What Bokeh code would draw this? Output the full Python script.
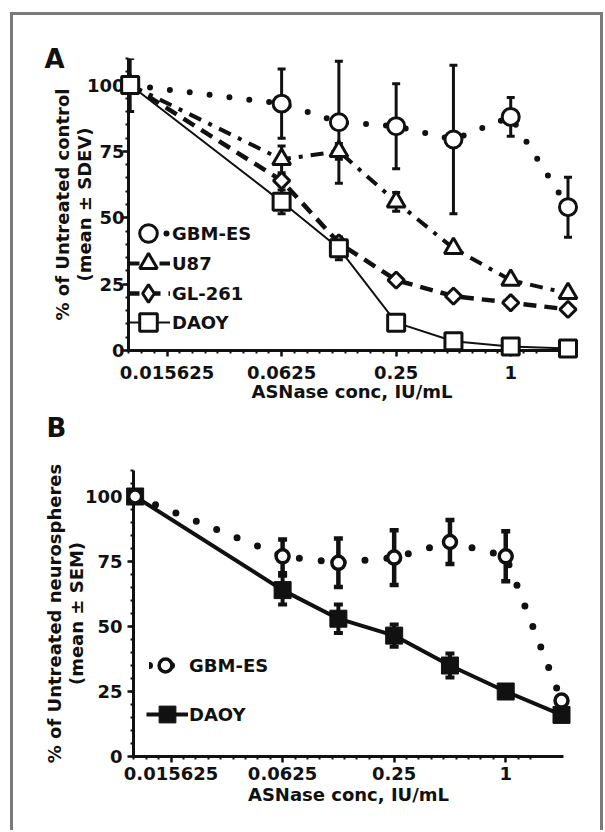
import numpy as np
from bokeh.plotting import figure
from bokeh.models import (ColumnDataSource, Range1d, FixedTicker, SingleIntervalTicker,
                          Whisker, TeeHead, Legend, LegendItem)
from bokeh.core.properties import value
from bokeh.layouts import column
from bokeh.embed import file_html
from bokeh.resources import INLINE

# ---------------- data ----------------
conc = [0.01, 0.0625, 0.125, 0.25, 0.5, 1, 2]

# Panel A  (% of untreated control, mean +/- SDEV)
a_gbm = [100, 93, 86, 84.5, 79.5, 88, 54]
a_gbm_err = [10, 13, 23, 16, 28, 7.3, 11.3]
a_u87 = [100, 72, 75, 56, 38.5, 26.5, 21.5]
a_u87_err = [3, 5, 3, 3.5, 1.5, 1.5, 1]
a_gl261 = [100, 64, 40.5, 26.5, 20.5, 18, 15.5]
a_gl261_err = [2, 2, 2, 1.5, 1.5, 1, 1]
a_daoy = [100, 56, 38.5, 10.5, 3.5, 1.5, 0.8]
a_daoy_err = [1, 4.5, 4.3, 1, 0.5, 0.5, 0.3]

# Panel B  (% of untreated neurospheres, mean +/- SEM)
b_gbm = [100, 77, 74.5, 76.5, 82.5, 77, 21.5]
b_gbm_err = [0.5, 6.5, 9.3, 10.5, 8.5, 9.6, 1.5]
b_daoy = [100, 64, 53, 46.5, 35, 25, 16]
b_daoy_err = [0.5, 5.5, 5.5, 4.3, 4.6, 1, 1]

x_tick_values = [0.015625, 0.0625, 0.25, 1]
x_tick_labels = ["0.015625", "0.0625", "0.25", "1"]
y_tick_interval = 25

FONT = "DejaVu Sans"
INK = "#111111"
Y_MAX = 110


def minor_ticks(x0, x1):
    step = 4 ** (1 / 9)
    ks = np.arange(-60, 30)
    vals = x_tick_values[0] * step ** ks
    return [float(v) for v, k in zip(vals, ks) if x0 <= v <= x1 and k % 9 != 0]


def make_fig(width, height, left, right, top, bottom, x0, x1, ylabel,
             ylab_standoff, ymaj_standoff, xmaj_standoff, xlab_standoff):
    p = figure(width=width, height=height, x_axis_type="log",
               x_range=Range1d(x0, x1), y_range=Range1d(0, Y_MAX),
               output_backend="svg", toolbar_location=None,
               min_border_left=left, min_border_right=right,
               min_border_top=top, min_border_bottom=bottom)
    p.frame_align = False
    p.outline_line_color = None
    p.grid.visible = False
    p.background_fill_color = "white"
    p.border_fill_color = "white"

    xa = p.xaxis[0]
    xa.ticker = FixedTicker(ticks=x_tick_values, minor_ticks=minor_ticks(x0, x1))
    xa.major_label_overrides = {v: s for v, s in zip(x_tick_values, x_tick_labels)}
    xa.axis_label = "ASNase conc, IU/mL"
    xa.major_label_standoff = xmaj_standoff
    xa.axis_label_standoff = xlab_standoff

    ya = p.yaxis[0]
    ya.ticker = SingleIntervalTicker(interval=y_tick_interval, num_minor_ticks=5)
    ya.axis_label = ylabel
    ya.major_label_standoff = ymaj_standoff
    ya.axis_label_standoff = ylab_standoff
    ya.axis_label_text_line_height = 1.05

    for ax in (xa, ya):
        ax.axis_line_width = 3
        ax.axis_line_color = INK
        ax.major_tick_line_width = 2.5
        ax.major_tick_line_color = INK
        ax.minor_tick_line_width = 2
        ax.minor_tick_line_color = INK
        ax.major_tick_out = 6
        ax.major_tick_in = 0
        ax.minor_tick_out = 3
        ax.minor_tick_in = 0
        ax.major_label_text_font = FONT
        ax.major_label_text_font_size = "18px"
        ax.major_label_text_font_style = "bold"
        ax.major_label_text_color = INK
        ax.axis_label_text_font = FONT
        ax.axis_label_text_font_size = "18px"
        ax.axis_label_text_font_style = "bold"
        ax.axis_label_text_color = INK
    return p


def add_series(p, y, err, marker, size, mline, fill, line_dash, lw, cap,
               err_lw, tee):
    src = ColumnDataSource(dict(x=conc, y=y,
                                lo=[v - e for v, e in zip(y, err)],
                                hi=[v + e for v, e in zip(y, err)]))
    w = Whisker(source=src, base="x", lower="lo", upper="hi", dimension="height",
                line_width=err_lw, line_color=INK,
                upper_head=TeeHead(size=tee, line_width=err_lw, line_color=INK),
                lower_head=TeeHead(size=tee, line_width=err_lw, line_color=INK))
    p.add_layout(w)
    lr = p.line("x", "y", source=src, line_color=INK, line_width=lw,
                line_dash=line_dash, line_cap=cap)
    if marker == "diamond":
        # plotted as a rotated square (equal width/height like the original)
        p.scatter("x", "y", source=src, marker="square", size=size, angle=np.pi / 4,
                  line_color=INK, line_width=mline, fill_color=fill, level="overlay")
        # legend-only diamond glyph (legend glyphs ignore rotation)
        leg_r = p.scatter("x", "y", source=src, marker="diamond", size=size,
                          line_color=INK, line_width=mline, fill_color=fill,
                          visible=False)
        return lr, leg_r
    sr = p.scatter("x", "y", source=src, marker=marker, size=size,
                   line_color=INK, line_width=mline, fill_color=fill, level="overlay")
    return lr, sr


LEG_STYLE = dict(padding=0, margin=0, border_line_color=None, background_fill_alpha=0,
                 label_text_font=FONT, label_text_font_size="18px",
                 label_text_font_style="bold", label_text_color=INK, label_height=20,
                 inactive_fill_alpha=0)


def add_legend(p, label, renderers, loc, glyph, standoff):
    leg = Legend(items=[LegendItem(label=label, renderers=list(renderers))],
                 location=loc, glyph_width=glyph, glyph_height=glyph,
                 label_standoff=standoff, **LEG_STYLE)
    p.add_layout(leg)


def add_letter(p, text, x0, x1, frame_w, dx_px, y_val):
    # panel letter placed dx_px pixels left of the y axis
    px_per_log2 = frame_w / np.log2(x1 / x0)
    lx = x0 * 2 ** (dx_px / px_per_log2)
    p.text(x=[lx], y=[y_val], text=[text], text_font=value(FONT),
           text_font_size="26px", text_font_style="bold", text_color=INK,
           text_baseline="alphabetic", text_align="left", level="overlay")


# ---------------- panel A ----------------
A_X0, A_X1 = 0.0098, 2.19
pA = make_fig(587, 395, 115, 25, 43, 60, A_X0, A_X1,
              "% of Untreated control\n(mean ± SDEV)",
              ylab_standoff=-11, ymaj_standoff=-2, xmaj_standoff=9, xlab_standoff=-1)

gA = add_series(pA, a_gbm, a_gbm_err, "circle", 17, 3, "white", "0 20", 6, "round", 3, 8)
uA = add_series(pA, a_u87, a_u87_err, "triangle", 18, 3, "white", "13 8 4 8", 4, "butt", 3, 8)
lA = add_series(pA, a_gl261, a_gl261_err, "diamond", 11.5, 3, "white", "13 8", 4.5, "butt", 3, 8)
dA = add_series(pA, a_daoy, a_daoy_err, "square", 17, 3, "white", "solid", 2, "butt", 3, 8)

add_legend(pA, "GBM-ES", gA, (-2, 95), 44, 2)
add_legend(pA, "U87", uA, (-2, 65), 44, 2)
add_legend(pA, "GL-261", lA, (-2, 35), 44, 2)
add_legend(pA, "DAOY", dA, (-2, 6), 44, 2)
add_letter(pA, "A", A_X0, A_X1, 447, -84, 110.0)

# ---------------- panel B ----------------
B_X0, B_X1 = 0.0098, 2.05
pB = make_fig(587, 420, 120, 37, 60, 74, B_X0, B_X1,
              "% of Untreated neurospheres\n(mean ± SEM)",
              ylab_standoff=-5, ymaj_standoff=5, xmaj_standoff=4, xlab_standoff=1)

dB = add_series(pB, b_daoy, b_daoy_err, "square", 17, 1, INK, "solid", 4, "butt", 4, 9)
gB = add_series(pB, b_gbm, b_gbm_err, "circle", 13, 3.5, "white", "0 22", 7, "round", 4.5, 9)

add_legend(pB, "GBM-ES", gB, (16, 75), 32, 8)
add_legend(pB, "DAOY", dB, (13, 21), 42, 1)
add_letter(pB, "B", B_X0, B_X1, 430, -87, 126.5)

layout = column(pA, pB, spacing=0,
                styles={"margin-left": "10px", "margin-top": "12px",
                        "border-left": "3px solid #7a7a7a",
                        "border-top": "3px solid #7a7a7a",
                        "border-right": "3px solid #7a7a7a"})

open("out.html", "w").write(file_html(layout, INLINE))
